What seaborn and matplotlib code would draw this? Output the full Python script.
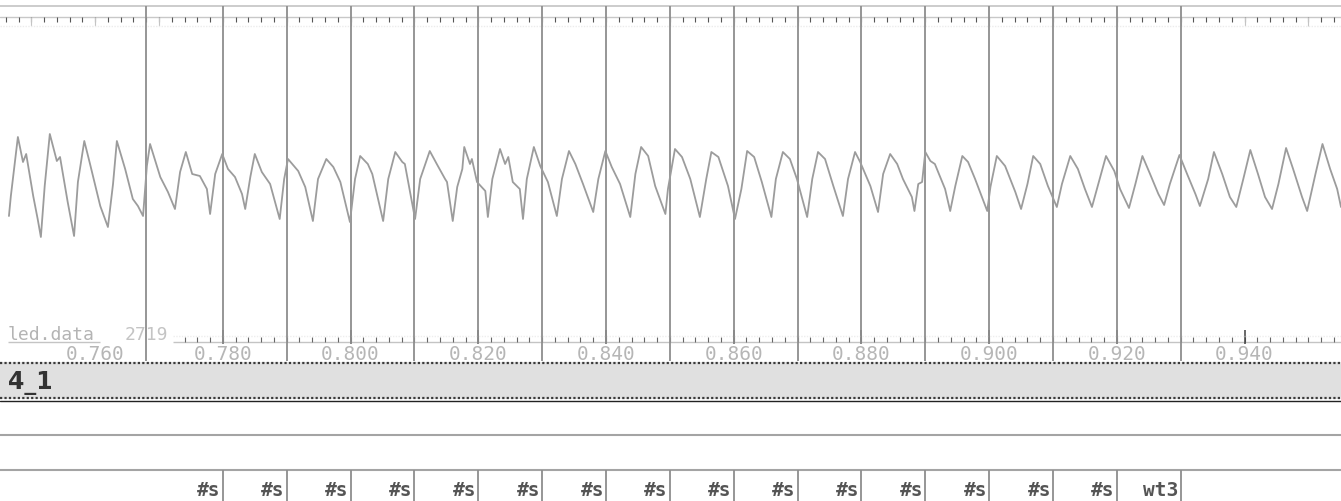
import numpy as np
import pandas as pd
import matplotlib
matplotlib.use("Agg")
import matplotlib.pyplot as plt
import seaborn as sns

# ---------------- data ----------------
view_start_s = 0.7451
view_end_s = 0.9551

wave_ms = [746.5, 746.8, 747.9, 748.7, 749.2, 750.3, 751.0, 751.5, 752.1, 752.9,
           754.0, 754.5, 755.7, 756.7, 757.3, 758.3, 759.2, 760.8, 762.0, 762.8,
           763.4, 764.7, 765.9, 766.7, 767.5, 768.1, 768.6, 770.2, 771.4, 772.5,
           773.3, 774.2, 775.2, 776.4, 777.5, 778.0, 778.8, 779.9, 780.8, 781.9,
           783.0, 783.5, 784.3, 785.0, 786.1, 787.4, 788.9, 789.6, 790.2, 791.8,
           792.9, 794.1, 794.9, 796.2, 797.3, 798.4, 799.9, 800.7, 801.5, 802.7,
           803.4, 805.1, 805.9, 807.0, 808.1, 808.5, 810.1, 810.9, 812.4, 813.5,
           814.8, 815.1, 816.0, 816.7, 817.5, 817.8, 818.7, 819.0, 819.8, 821.1,
           821.5, 822.2, 823.4, 824.2, 824.7, 825.4, 826.5, 827.0, 827.6, 828.7,
           829.7, 830.9, 832.3, 833.1, 834.2, 835.2, 836.4, 838.0, 838.8, 839.9,
           840.9, 842.2, 843.8, 844.6, 845.5, 846.6, 847.7, 849.3, 849.7, 850.8,
           851.9, 853.2, 854.7, 855.7, 856.5, 857.6, 859.1, 860.2, 861.2, 862.1,
           863.2, 864.4, 865.9, 866.6, 867.7, 868.8, 869.9, 871.5, 872.3, 873.2,
           874.3, 875.6, 877.1, 877.9, 879.0, 879.8, 881.4, 882.6, 883.4, 884.5,
           885.6, 886.5, 887.9, 888.3, 888.9, 889.5, 890.0, 890.8, 891.5, 893.1,
           893.9, 894.7, 895.8, 896.7, 897.8, 899.7, 900.2, 901.2, 902.5, 904.1,
           905.0, 906.0, 906.9, 908.0, 909.2, 910.6, 911.4, 912.7, 913.9, 915.0,
           916.1, 917.1, 918.3, 919.6, 920.5, 921.9, 922.9, 924.0, 925.2, 926.5,
           927.4, 928.3, 929.8, 931.0, 932.3, 933.0, 934.3, 935.2, 936.5, 937.7,
           938.7, 939.8, 940.9, 942.1, 943.2, 944.3, 945.3, 946.5, 947.6, 949.0,
           949.8, 951.1, 952.2, 953.4, 954.5, 955.1]

wave_amp = [-0.27, -0.07, 0.52, 0.27, 0.35, -0.07, -0.30, -0.48, 0.03, 0.55,
            0.28, 0.32, -0.13, -0.47, 0.07, 0.48, 0.25, -0.17, -0.38, 0.05,
            0.48, 0.20, -0.10, -0.17, -0.27, 0.23, 0.45, 0.12, -0.03, -0.20,
            0.17, 0.37, 0.15, 0.13, 0.00, -0.25, 0.15, 0.35, 0.20, 0.12,
            -0.05, -0.20, 0.12, 0.35, 0.17, 0.05, -0.30, 0.10, 0.30, 0.18,
            0.02, -0.32, 0.10, 0.30, 0.22, 0.07, -0.33, 0.10, 0.33, 0.25,
            0.15, -0.32, 0.10, 0.37, 0.27, 0.25, -0.30, 0.10, 0.38, 0.25,
            0.10, 0.07, -0.32, 0.02, 0.20, 0.42, 0.25, 0.30, 0.07, -0.02,
            -0.28, 0.10, 0.40, 0.25, 0.32, 0.07, 0.00, -0.30, 0.10, 0.42,
            0.23, 0.07, -0.27, 0.10, 0.38, 0.25, 0.05, -0.23, 0.10, 0.38,
            0.22, 0.05, -0.28, 0.15, 0.42, 0.33, 0.03, -0.25, 0.00, 0.40,
            0.32, 0.10, -0.28, 0.10, 0.37, 0.32, 0.03, -0.30, 0.00, 0.38,
            0.32, 0.07, -0.28, 0.10, 0.37, 0.30, 0.10, -0.28, 0.10, 0.37,
            0.30, 0.03, -0.27, 0.10, 0.37, 0.27, 0.03, -0.23, 0.15, 0.35,
            0.25, 0.10, -0.08, -0.22, 0.05, 0.07, 0.37, 0.28, 0.25, 0.00,
            -0.22, 0.03, 0.33, 0.27, 0.10, -0.22, 0.02, 0.33, 0.23, -0.03,
            -0.20, 0.05, 0.33, 0.25, 0.03, -0.18, 0.05, 0.33, 0.20, 0.00,
            -0.18, 0.05, 0.33, 0.18, 0.00, -0.19, 0.05, 0.33, 0.15, -0.05,
            -0.16, 0.05, 0.34, 0.15, -0.05, -0.17, 0.10, 0.37, 0.15, -0.08,
            -0.18, 0.10, 0.39, 0.15, -0.08, -0.20, 0.05, 0.41, 0.20, -0.08,
            -0.22, 0.15, 0.45, 0.20, 0.00, -0.18]

boundaries_s = [0.768, 0.780, 0.790, 0.800, 0.810, 0.820, 0.830, 0.840, 0.850,
                0.860, 0.870, 0.880, 0.890, 0.900, 0.910, 0.920, 0.930]
tier_ends_s = [0.780, 0.790, 0.800, 0.810, 0.820, 0.830, 0.840, 0.850,
               0.860, 0.870, 0.880, 0.890, 0.900, 0.910, 0.920, 0.930]
tier_labels = ["#s", "#s", "#s", "#s", "#s", "#s", "#s", "#s",
               "#s", "#s", "#s", "#s", "#s", "#s", "#s", "wt3"]
tick_values = [0.760, 0.780, 0.800, 0.820, 0.840, 0.860, 0.880, 0.900, 0.920, 0.940]
tick_labels = ["0.760", "0.780", "0.800", "0.820", "0.840",
               "0.860", "0.880", "0.900", "0.920", "0.940"]
track_name = "4_1"
signal_name = "led.data"
signal_count = "2719"

# ---------------- figure ----------------
W, H = 1341, 502
sns.set_style("white")
plt.rcParams["font.family"] = ["DejaVu Sans"]

fig = plt.figure(figsize=(W / 100, H / 100), dpi=100)
fig.patch.set_facecolor("white")

# layout axes: x in seconds, y in pixel rows (top = 0)
ax = fig.add_axes([0, 0, 1, 1])
ax.set_xlim(view_start_s, view_end_s)
ax.set_ylim(H, 0)
ax.axis("off")

px = (view_end_s - view_start_s) / W  # seconds per pixel (layout helper)

# top border and top ruler
ax.axhline(7, color="#c4c4c4", lw=1.2)
ax.axhline(18, color="#c8c8c8", lw=1.0)
minor = np.arange(0.746, 0.956, 0.002)
major = np.arange(0.750, 0.956, 0.010)
ax.vlines(minor, 18, 23, color="#555555", lw=0.8)
ax.vlines(major, 18, 27, color="#c4c4c4", lw=0.8)
ax.axhline(26.5, color="#ececec", lw=1.0, ls=(0, (1, 1)))

# bottom ruler
ax.hlines(343, view_start_s + 173 * px, view_end_s, color="#c4c4c4", lw=1.0)
ax.hlines(343, view_start_s + 8 * px, view_start_s + 100 * px, color="#c4c4c4", lw=1.0)
ax.vlines(minor[minor > view_start_s + 173 * px], 338, 343, color="#666666", lw=0.8)
ax.vlines(tick_values[1:], 331, 347, color="#404040", lw=1.1)
ax.axhline(336.5, xmin=173 / W, color="#eeeeee", lw=1.0, ls=(0, (1, 1)))

# boundary lines in the signal pane
ax.vlines(boundaries_s, 7, 362, color="#8e8e8e", lw=1.3)

# time tick labels (white boxes hide the boundary lines)
for t, lab in zip(tick_values, tick_labels):
    ax.text(t, 355, lab, ha="center", va="center", fontsize=14,
            family="DejaVu Sans Mono", color="#b6b6b6",
            bbox=dict(facecolor="white", edgecolor="none", pad=0.3))

fig.text(8 / W, 1 - 335 / H, signal_name, ha="left", va="center", fontsize=13,
         family="DejaVu Sans Mono", color="#b4b4b4")
fig.text(125 / W, 1 - 335 / H, signal_count, ha="left", va="center", fontsize=13,
         family="DejaVu Sans Mono", color="#c4c4c4")

# gray track-name band
ax.axhspan(363, 400, color="#e0e0e0", lw=0, zorder=5)
ax.axhline(364, color="#3a3a3a", lw=1.6, ls=(0, (1, 1)), zorder=6)
ax.axhline(399, color="#3a3a3a", lw=1.6, ls=(0, (1, 1)), zorder=6)
ax.axhline(402, color="#222222", lw=1.0, zorder=6)
fig.text(8 / W, 1 - 383 / H, track_name, ha="left", va="center", fontsize=17,
         fontweight="bold", color="#333333", zorder=7)

# tier lines
ax.axhline(436, color="#a4a4a4", lw=1.5)
ax.axhline(471, color="#a4a4a4", lw=1.5)
ax.vlines(tier_ends_s, 471, 502, color="#8e8e8e", lw=1.3)
for t, lab in zip(tier_ends_s, tier_labels):
    ax.text(t - 2 * px, 491, lab, ha="right", va="center", fontsize=14,
            family="DejaVu Sans Mono", fontweight="bold", color="#555555")

# waveform on an overlay axes (amplitude units, zero at row 190)
ax_w = fig.add_axes([0, 0, 1, 1])
ax_w.patch.set_alpha(0)
wave = pd.DataFrame({"t": np.array(wave_ms) / 1000.0, "amp": wave_amp})
sns.lineplot(data=wave, x="t", y="amp", ax=ax_w, color="#9c9c9c", lw=1.3,
             sort=False, estimator=None)
ax_w.set_xlim(view_start_s, view_end_s)
ax_w.set_ylim(-(H - 190) / 100, 190 / 100)
ax_w.axis("off")

fig.savefig("out.png", dpi=100, facecolor="white")
